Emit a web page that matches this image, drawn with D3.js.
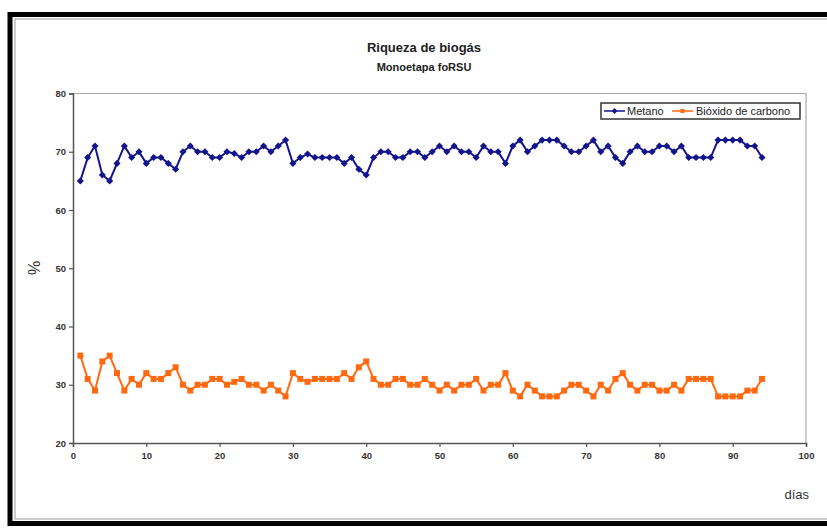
<!DOCTYPE html>
<html><head><meta charset="utf-8">
<script src="https://cdn.jsdelivr.net/npm/d3@7"></script>
<style>body{margin:0;background:#fff;font-family:Arial,"Liberation Sans",sans-serif}</style>
</head><body><svg id="c" width="827" height="528"></svg>
<script>
const days = d3.range(1, 95);
const metano = [65,69,71,66,65,68,71,69,70,68,69,69,68,67,70,71,70,70,69,69,70,69.7,69,70,70,71,70,71,72,68,69,69.6,69,69,69,69,68,69,67,66,69,70,70,69,69,70,70,69,70,71,70,71,70,70,69,71,70,70,68,71,72,70,71,72,72,72,71,70,70,71,72,70,71,69,68,70,71,70,70,71,71,70,71,69,69,69,69,72,72,72,72,71,71,69];
const co2 = [35,31,29,34,35,32,29,31,30,32,31,31,32,33,30,29,30,30,31,31,30,30.5,31,30,30,29,30,29,28,32,31,30.5,31,31,31,31,32,31,33,34,31,30,30,31,31,30,30,31,30,29,30,29,30,30,31,29,30,30,32,29,28,30,29,28,28,28,29,30,30,29,28,30,29,31,32,30,29,30,30,29,29,30,29,31,31,31,31,28,28,28,28,29,29,31];
const xTicks = [0,10,20,30,40,50,60,70,80,90,100];
const yTicks = [20,30,40,50,60,70,80];
const seriesNames = ["Metano","Bióxido de carbono"];
const colors = ["#14148c","#ff6a10"];

const svg = d3.select("#c");
// outer frame
svg.append("rect").attr("x",10).attr("y",14.5).attr("width",840).attr("height",509).attr("fill","none").attr("stroke","#000").attr("stroke-width",5);
svg.append("rect").attr("x",15).attr("y",19).attr("width",830).attr("height",500).attr("fill","none").attr("stroke","#999").attr("stroke-width",1);

const x = d3.scaleLinear().domain([0,100]).range([73,806]);
const y = d3.scaleLinear().domain([20,80]).range([443,93.5]);

// plot area border
svg.append("path").attr("d",`M${x(0)},${y(80)}H${x(100)}V${y(20)}`).attr("fill","none").attr("stroke","#aaa").attr("stroke-width",1.2);

const gx = svg.append("g").attr("transform",`translate(0,${y(20)})`)
  .call(d3.axisBottom(x).tickValues(xTicks).tickSize(4).tickPadding(5));
const gy = svg.append("g").attr("transform",`translate(${x(0)},0)`)
  .call(d3.axisLeft(y).tickValues(yTicks).tickSize(4).tickPadding(3));
[gx,gy].forEach(g=>{
  g.select(".domain").attr("stroke","#555").attr("stroke-width",1.5);
  g.selectAll(".tick line").attr("stroke","#555").attr("stroke-width",1.2);
  g.selectAll("text").attr("font-size",9.5).attr("font-weight","bold").attr("fill","#333").attr("font-family","Arial");
});

const line = d3.line().x((d,i)=>x(days[i])).y(d=>y(d));
const data = [metano, co2];
data.forEach((s,k)=>{
  svg.append("path").datum(s).attr("d",line).attr("fill","none").attr("stroke",colors[k]).attr("stroke-width",2);
});
// markers
svg.append("g").selectAll("path").data(metano).join("path")
  .attr("d",d3.symbol(d3.symbolDiamond2,32)())
  .attr("transform",(d,i)=>`translate(${x(days[i])},${y(d)})`).attr("fill",colors[0]);
svg.append("g").selectAll("rect").data(co2).join("rect")
  .attr("x",(d,i)=>x(days[i])-3).attr("y",d=>y(d)-3).attr("width",6).attr("height",6).attr("fill",colors[1]);

// titles
svg.append("text").attr("x",424).attr("y",52).attr("text-anchor","middle").attr("font-size",13).attr("font-weight","bold").attr("fill","#222").text("Riqueza de biogás");
svg.append("text").attr("x",424).attr("y",71).attr("text-anchor","middle").attr("font-size",11).attr("font-weight","bold").attr("fill","#222").text("Monoetapa foRSU");
svg.append("text").attr("transform","translate(40,268) rotate(-90)").attr("text-anchor","middle").attr("font-size",16).attr("fill","#333").text("%");
svg.append("text").attr("x",809).attr("y",499).attr("text-anchor","end").attr("font-size",13).attr("fill","#333").text("días");

// legend
const lg = svg.append("g");
lg.append("rect").attr("x",601).attr("y",103).attr("width",199).attr("height",16).attr("fill","#fff").attr("stroke","#333").attr("stroke-width",1.5);
const items = [{x:604,tx:627},{x:672,tx:696}];
items.forEach((it,k)=>{
  lg.append("line").attr("x1",it.x).attr("x2",it.x+21).attr("y1",111).attr("y2",111).attr("stroke",colors[k]).attr("stroke-width",1.5);
  if(k===0) lg.append("path").attr("d",d3.symbol(d3.symbolDiamond2,22)()).attr("transform",`translate(${it.x+10.5},111)`).attr("fill",colors[k]);
  else lg.append("rect").attr("x",it.x+8.5).attr("y",109).attr("width",4).attr("height",4).attr("fill",colors[k]);
  lg.append("text").attr("x",it.tx).attr("y",115).attr("font-size",11).attr("fill","#222").text(seriesNames[k]);
});
</script></body></html>
